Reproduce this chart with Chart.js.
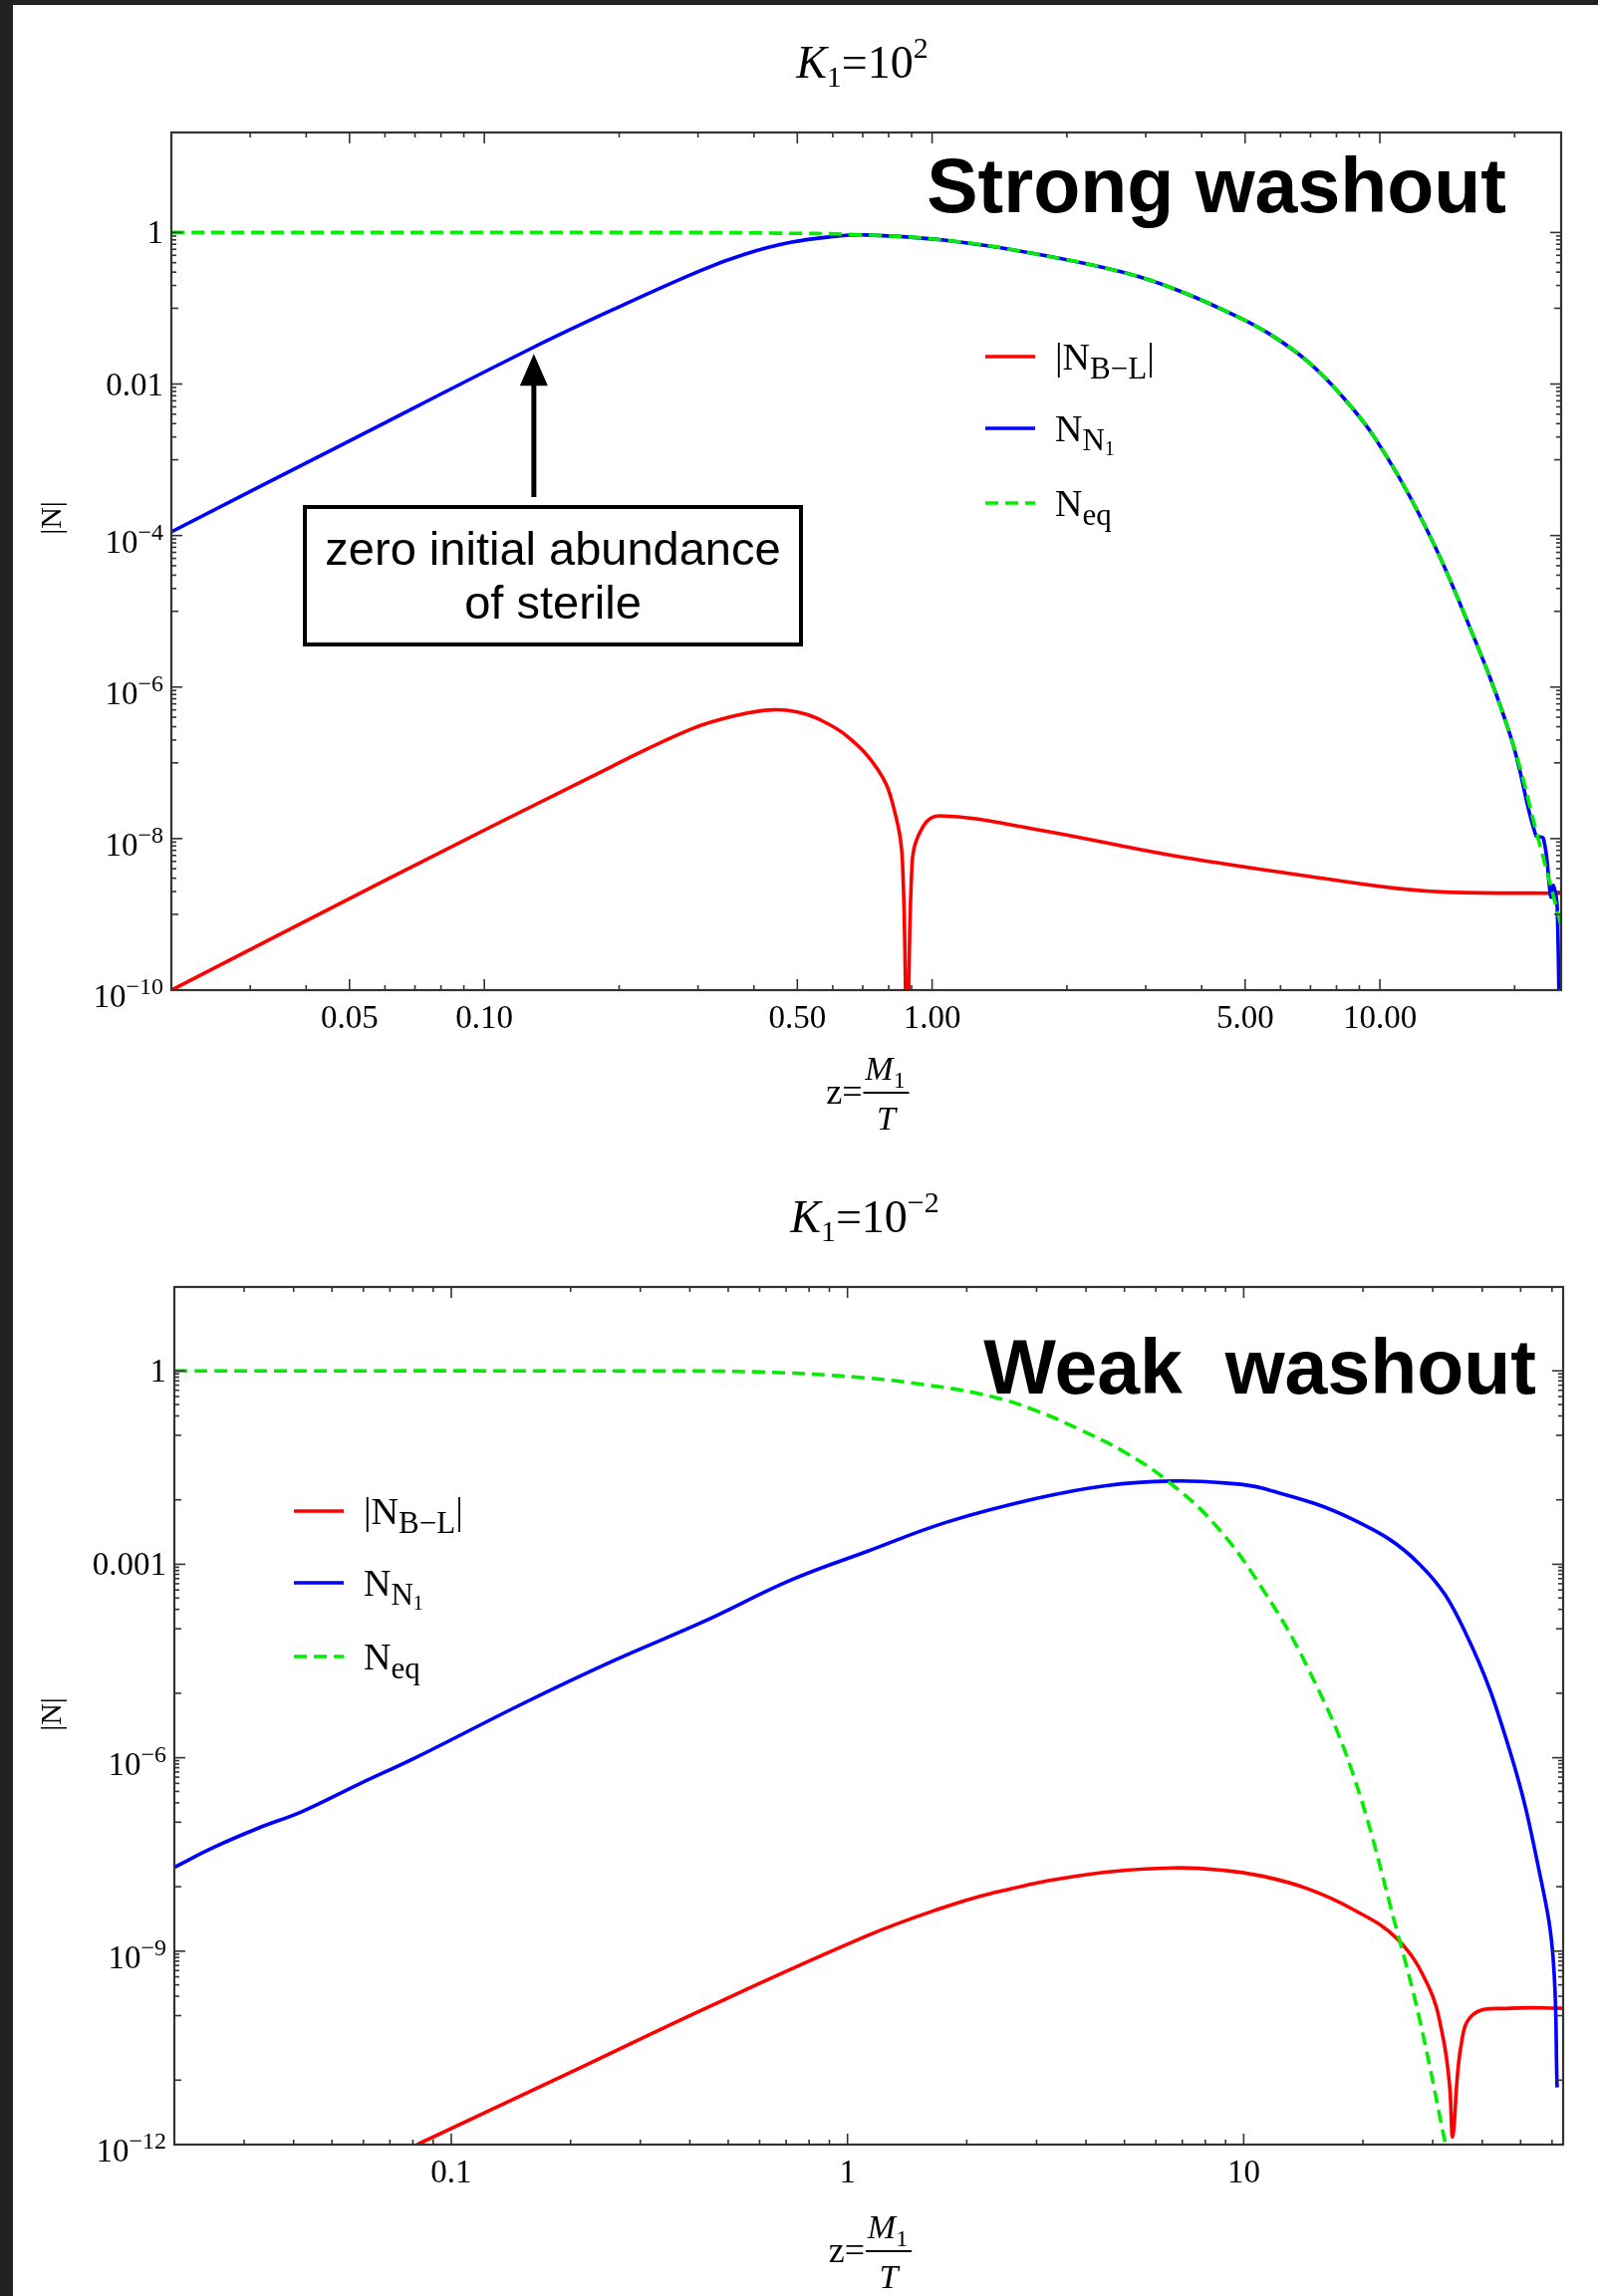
<!DOCTYPE html>
<html>
<head>
<meta charset="utf-8">
<script src="https://cdn.jsdelivr.net/npm/chart.js@4.4.1/dist/chart.umd.min.js"></script>
<style>
  html, body { margin: 0; padding: 0; background: #fff; }
  body { width: 1604px; height: 2305px; position: relative; overflow: hidden; }
  canvas { position: absolute; left: 0; }
  #c1 { top: 0; }
  #c2 { top: 1160px; }
  #barTop { position: absolute; left: 0; top: 0; width: 1604px; height: 5px; background: #222; }
  #barLeft { position: absolute; left: 0; top: 0; width: 13px; height: 2305px; background: #222; }
</style>
</head>
<body>
<canvas id="c1" width="1604" height="1160"></canvas>
<canvas id="c2" width="1604" height="1145"></canvas>
<div id="barTop"></div>
<div id="barLeft"></div>
<script>
// ---- K1 = 10^2 (strong washout) ----
const zRedTop = [0.02, 0.06, 0.193, 0.29, 0.37, 0.44, 0.50, 0.557, 0.649, 0.755, 0.815, 0.859, 0.880, 0.902, 0.955, 1.04, 1.71, 3.43, 6.89, 10.9, 14.5, 25.4];
const nRedTop = [1e-10, 2.8e-9, 9.0e-8, 2.8e-7, 4.3e-7, 5.0e-7, 4.7e-7, 3.8e-7, 2.2e-7, 8.3e-8, 3.0e-8, 4.7e-9, 1e-12, 4.6e-9, 1.45e-8, 2.0e-8, 1.32e-8, 6.0e-9, 3.2e-9, 2.2e-9, 1.95e-9, 1.9e-9];

const zBlueTop = [0.02, 0.05, 0.128, 0.193, 0.306, 0.383, 0.483, 0.608, 0.70, 1.074, 1.71, 2.72, 3.6, 4.86, 5.8, 6.89, 8.2, 9.77, 12.3, 15.5, 19.6, 22.3, 23.2, 24.1, 24.4, 24.9, 25.3];
const nBlueTop = [1.12e-4, 1.78e-3, 0.03, 0.095, 0.32, 0.52, 0.74, 0.89, 0.93, 0.79, 0.52, 0.29, 0.166, 0.075, 0.042, 0.020, 7.1e-3, 1.9e-3, 1.8e-4, 8.7e-6, 2.2e-7, 1.1e-8, 1.0e-8, 1.7e-9, 2.4e-9, 1.2e-9, 1e-12];

const zEqTop = [0.02, 0.3, 0.45, 0.673, 1.074, 1.71, 2.72, 3.6, 4.86, 5.8, 6.89, 8.2, 9.77, 12.3, 15.5, 19.6, 22.5, 25.4];
const nEqTop = [1, 1, 0.98, 0.94, 0.79, 0.52, 0.29, 0.166, 0.075, 0.042, 0.020, 7.1e-3, 1.9e-3, 1.8e-4, 8.7e-6, 2.2e-7, 1.07e-8, 7.1e-10];

// ---- K1 = 10^-2 (weak washout) ----
const zRedBot = [0.082, 0.199, 0.432, 1.12, 1.7, 2.31, 3.89, 6.59, 9.0, 11.2, 14.5, 18.8, 24.4, 29.3, 31.8, 33.1, 33.7, 35.3, 38.0, 47.1, 64];
const nRedBot = [1e-12, 1.3e-11, 1.25e-10, 1.73e-9, 4.5e-9, 7.9e-9, 1.5e-8, 1.95e-8, 1.78e-8, 1.45e-8, 9.3e-9, 4.5e-9, 1.55e-9, 2.8e-10, 4.8e-11, 8e-12, 1.35e-12, 3.2e-11, 1.05e-10, 1.3e-10, 1.3e-10];

const zBlueBot = [0.02, 0.0252, 0.0326, 0.0422, 0.059, 0.0807, 0.153, 0.257, 0.432, 0.723, 1.12, 1.78, 3.0, 4.5, 6.59, 9.0, 11.2, 18.8, 27.8, 36.1, 47.1, 56.4, 60.4, 61.8];
const nBlueBot = [2.0e-8, 4.1e-8, 8.1e-8, 1.48e-7, 4.0e-7, 9.8e-7, 7.1e-6, 3.2e-5, 1.28e-4, 5.75e-4, 1.58e-3, 4.5e-3, 0.0105, 0.0166, 0.0195, 0.0182, 0.015, 5.0e-3, 1.0e-3, 9.3e-5, 1.2e-6, 1.2e-8, 7.6e-10, 7.7e-12];

const zEqBot = [0.02, 0.3, 0.6, 1.05, 1.6, 2.31, 3.0, 3.89, 5.0, 6.4, 8.5, 11.2, 14.5, 18.8, 24.4, 27.8, 32.6];
const nEqBot = [1, 0.995, 0.96, 0.80, 0.60, 0.40, 0.24, 0.12, 0.055, 0.02, 4.0e-3, 4.0e-4, 2.5e-5, 6e-7, 2.0e-9, 8.7e-11, 7.6e-13];

// ---- ticks ----
const xTicksTop = [0.05, 0.1, 0.5, 1, 5, 10];
const xLabelsTop = ['0.05', '0.10', '0.50', '1.00', '5.00', '10.00'];
const yTicksTop = [1, 1e-2, 1e-4, 1e-6, 1e-8, 1e-10];
const yBaseTop = ['1', '0.01', '10', '10', '10', '10'];
const yExpTop = ['', '', '\u22124', '\u22126', '\u22128', '\u221210'];

const xTicksBot = [0.1, 1, 10];
const xLabelsBot = ['0.1', '1', '10'];
const yTicksBot = [1, 1e-3, 1e-6, 1e-9, 1e-12];
const yBaseBot = ['1', '0.001', '10', '10', '10'];
const yExpBot = ['', '', '\u22126', '\u22129', '\u221212'];

const RED = '#ff0000', BLUE = '#0000ff', GREEN = '#00ee00';
const SERIF = '"Liberation Serif", "Times New Roman", serif';
const SANS = '"Liberation Sans", Arial, sans-serif';
const DASH = [13, 7];

function pts(xs, ys) {
    return xs.map((x, i) => ({ x: x, y: ys[i] }));
}

function series(label, xs, ys, color, dash) {
    return {
        label: label,
        data: pts(xs, ys),
        borderColor: color,
        backgroundColor: color,
        borderWidth: 3.6,
        borderDash: dash || [],
        showLine: true,
        pointRadius: 0,
        tension: 0.4,
        fill: false,
    };
}

function same(a, b) {
    return Math.abs(a - b) / b < 1e-6;
}

// minor ticks 2..9 in each decade, skipping the labelled ones
function minorX(min, max, skip) {
    let out = [];
    for (let e = -3; e <= 2; e++) {
        for (let k = 2; k <= 9; k++) {
            let v = k * Math.pow(10, e);
            if (v > min * 1.001 && v < max * 0.999 && !skip.some(s => same(s, v))) out.push(v);
        }
    }
    return out;
}

function yTickSets(min, labelled) {
    let medium = [];
    let minor = [];
    for (let e = 0; Math.pow(10, -e) >= min; e++) {
        let v = Math.pow(10, -e);
        if (!labelled.some(s => same(s, v))) medium.push(v);
    }
    labelled.forEach(L => {
        for (let k = 2; k <= 9; k++) {
            let v = k * L / 10;
            if (v > min) minor.push(v);
        }
    });
    return { medium: medium, minor: minor };
}

function runs(ctx, x, y, parts, center) {
    let w = 0;
    parts.forEach(p => {
        ctx.font = (p[3] ? 'italic ' : '') + p[1] + 'px ' + SERIF;
        w += ctx.measureText(p[0]).width;
    });
    let cx = center ? x - w / 2 : x;
    ctx.textAlign = 'left';
    ctx.textBaseline = 'alphabetic';
    parts.forEach(p => {
        ctx.font = (p[3] ? 'italic ' : '') + p[1] + 'px ' + SERIF;
        ctx.fillText(p[0], cx, y + p[2]);
        cx += ctx.measureText(p[0]).width;
    });
}

function seg(ctx, x1, y1, x2, y2) {
    ctx.beginPath();
    ctx.moveTo(x1, y1);
    ctx.lineTo(x2, y2);
    ctx.stroke();
}

const decor = {
    id: 'decor',
    afterDatasetsDraw(chart, args, o) {
        const ctx = chart.ctx;
        const a = chart.chartArea;
        const x = chart.scales.x, y = chart.scales.y;
        ctx.save();
        ctx.strokeStyle = '#333';
        ctx.lineWidth = 1.6;
        // inward ticks on all four sides
        [[o.xMajor, 11], [o.xMinor, 5]].forEach(([vals, len]) => {
            vals.forEach(v => {
                let p = x.getPixelForValue(v);
                seg(ctx, p, a.bottom, p, a.bottom - len);
                seg(ctx, p, a.top, p, a.top + len);
            });
        });
        const ys = yTickSets(y.min, o.yMajor);
        [[o.yMajor, 11], [ys.medium, 7], [ys.minor, 5]].forEach(([vals, len]) => {
            vals.forEach(v => {
                let p = y.getPixelForValue(v);
                seg(ctx, a.left, p, a.left + len, p);
                seg(ctx, a.right, p, a.right - len, p);
            });
        });
        ctx.lineWidth = 2.2;
        ctx.strokeRect(a.left, a.top, a.right - a.left, a.bottom - a.top);

        // y tick labels with superscript exponents
        ctx.fillStyle = '#000';
        ctx.textAlign = 'left';
        ctx.textBaseline = 'alphabetic';
        o.yMajor.forEach((v, i) => {
            const p = y.getPixelForValue(v);
            const base = o.yBase[i], exp = o.yExp[i];
            ctx.font = '24px ' + SERIF;
            const we = exp ? ctx.measureText(exp).width : 0;
            ctx.font = '33px ' + SERIF;
            const wb = ctx.measureText(base).width;
            const right = a.left - 8;
            if (exp) {
                ctx.fillText(base, right - wb - we, p + 17);
                ctx.font = '24px ' + SERIF;
                ctx.fillText(exp, right - we, p + 4);
            } else {
                ctx.fillText(base, right - wb, p + 11);
            }
        });
        ctx.restore();
    },
    afterDraw(chart, args, o) {
        const ctx = chart.ctx;
        const a = chart.chartArea;
        const x = chart.scales.x, y = chart.scales.y;
        const mid = (a.left + a.right) / 2;
        ctx.save();
        ctx.fillStyle = '#000';
        ctx.strokeStyle = '#000';

        // title K1=10^n
        runs(ctx, mid - 4, a.top - 55, [['K', 46, 0, true], ['1', 30, 9], ['=10', 46, 0], [o.power, 30, -20]], true);

        // y title |N|
        ctx.save();
        ctx.translate(53, o.yTitleY);
        ctx.rotate(-Math.PI / 2);
        ctx.font = '30px ' + SERIF;
        ctx.textAlign = 'center';
        ctx.textBaseline = 'middle';
        ctx.fillText('|N|', 0, 0);
        ctx.restore();

        // x title z = M1 / T
        const bar = a.bottom + o.barGap;
        const fx = mid + 20;
        ctx.font = '36px ' + SERIF;
        ctx.textAlign = 'right';
        ctx.fillText('z=', fx - 24, bar + 11);
        ctx.lineWidth = 2;
        seg(ctx, fx - 23, bar, fx + 23, bar);
        runs(ctx, fx - 1, bar - 13, [['M', 34, 0, true], ['1', 24, 8]], true);
        runs(ctx, fx, bar + 37, [['T', 34, 0, true]], true);

        // legend
        const items = [
            [RED, [], [['|N', 38, 0], ['B\u2212L', 31, 9], ['|', 38, 0]]],
            [BLUE, [], [['N', 38, 0], ['N', 31, 9], ['1', 20, 14]]],
            [GREEN, DASH, [['N', 38, 0], ['eq', 31, 9]]],
        ];
        items.forEach((it, i) => {
            const ly = o.legendY[i];
            ctx.strokeStyle = it[0];
            ctx.lineWidth = 3.6;
            ctx.setLineDash(it[1]);
            seg(ctx, o.legendX, ly, o.legendX + 50, ly);
            ctx.setLineDash([]);
            runs(ctx, o.legendX + 70, ly + 13, it[2], false);
        });

        // big label
        ctx.font = 'bold 77px ' + SANS;
        ctx.textAlign = 'right';
        ctx.fillStyle = '#000';
        ctx.fillText(o.washout, o.washRight, o.washBase);

        // boxed note with arrow (top panel only)
        if (o.note) {
            ctx.strokeStyle = '#000';
            ctx.lineWidth = 4;
            ctx.strokeRect(306, 509, 498, 138);
            ctx.font = '47px ' + SANS;
            ctx.textAlign = 'center';
            ctx.fillText('zero initial abundance', 555, 567);
            ctx.fillText('of sterile', 555, 621);
            const ax = x.getPixelForValue(0.129);
            const tip = y.getPixelForValue(0.025);
            ctx.lineWidth = 5;
            seg(ctx, ax, 499, ax, tip + 28);
            ctx.beginPath();
            ctx.moveTo(ax, tip);
            ctx.lineTo(ax - 14, tip + 32);
            ctx.lineTo(ax + 14, tip + 32);
            ctx.closePath();
            ctx.fill();
        }
        ctx.restore();
    },
};

function makeChart(id, c) {
    const ctx = document.getElementById(id).getContext('2d');
    return new Chart(ctx, {
        type: 'scatter',
        data: {
            datasets: [
                series('N_eq', c.zEq, c.nEq, GREEN, DASH),
                series('N_N1', c.zBlue, c.nBlue, BLUE),
                series('|N_B-L|', c.zRed, c.nRed, RED),
            ],
        },
        options: {
            responsive: false,
            animation: false,
            events: [],
            layout: { padding: { top: c.padTop, right: c.padRight, left: 0, bottom: 0 } },
            plugins: {
                legend: { display: false },
                tooltip: { enabled: false },
                decor: c.decor,
            },
            scales: {
                x: {
                    type: 'logarithmic',
                    min: c.xMin,
                    max: c.xMax,
                    grid: { display: false, drawTicks: false },
                    border: { display: false },
                    ticks: {
                        autoSkip: false,
                        maxRotation: 0,
                        padding: 10,
                        color: '#000',
                        font: { family: SERIF, size: 33 },
                        callback: (v, i) => c.xLabels[i],
                    },
                    afterBuildTicks: s => { s.ticks = c.xTicks.map(v => ({ value: v })); },
                    afterFit: s => { s.height = c.xHeight; },
                },
                y: {
                    type: 'logarithmic',
                    min: c.yMin,
                    max: c.yMax,
                    grid: { display: false, drawTicks: false },
                    border: { display: false },
                    ticks: { display: false },
                    afterBuildTicks: s => { s.ticks = c.yTicks.map(v => ({ value: v })); },
                    afterFit: s => { s.width = c.yWidth; },
                },
            },
        },
        plugins: [decor],
    });
}

makeChart('c1', {
    zRed: zRedTop, nRed: nRedTop, zBlue: zBlueTop, nBlue: nBlueTop, zEq: zEqTop, nEq: nEqTop,
    xMin: 0.02, xMax: 25.4, yMin: 1e-10, yMax: 20.9,
    xTicks: xTicksTop, xLabels: xLabelsTop, yTicks: yTicksTop,
    padTop: 133, padRight: 37, yWidth: 172, xHeight: 166,
    decor: {
        power: '2', yTitleY: 520, barGap: 103,
        xMajor: xTicksTop, xMinor: minorX(0.02, 25.4, xTicksTop),
        yMajor: yTicksTop, yBase: yBaseTop, yExp: yExpTop,
        legendX: 989, legendY: [358, 430, 505],
        washout: 'Strong washout', washRight: 1512, washBase: 213, note: true,
    },
});

makeChart('c2', {
    zRed: zRedBot, nRed: nRedBot, zBlue: zBlueBot, nBlue: nBlueBot, zEq: zEqBot, nEq: nEqBot,
    xMin: 0.02, xMax: 64, yMin: 1e-12, yMax: 20,
    xTicks: xTicksBot, xLabels: xLabelsBot, yTicks: yTicksBot,
    padTop: 132, padRight: 35, yWidth: 175, xHeight: 152,
    decor: {
        power: '\u22122', yTitleY: 561, barGap: 107,
        xMajor: xTicksBot, xMinor: minorX(0.02, 64, xTicksBot),
        yMajor: yTicksBot, yBase: yBaseBot, yExp: yExpBot,
        legendX: 295, legendY: [357, 429, 503],
        washout: 'Weak  washout', washRight: 1542, washBase: 239, note: false,
    },
});
</script>
</body>
</html>
